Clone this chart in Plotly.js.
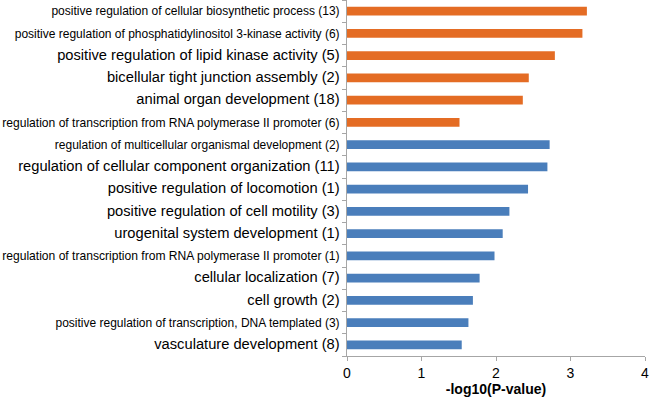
<!DOCTYPE html>
<html>
<head>
<meta charset="utf-8">
<script src="https://cdn.plot.ly/plotly-3.0.1.min.js"></script>
<style>
  html, body { margin: 0; padding: 0; background: #ffffff; }
  #chart { width: 650px; height: 403px; }
</style>
</head>
<body>
<div id="chart"></div>
<script>
// ---- data (top to bottom) ----
const categories = [
  "positive regulation of cellular biosynthetic process (13)",
  "positive regulation of phosphatidylinositol 3-kinase activity (6)",
  "positive regulation of lipid kinase activity (5)",
  "bicellular tight junction assembly (2)",
  "animal organ development (18)",
  "regulation of transcription from RNA polymerase II promoter (6)",
  "regulation of multicellular organismal development (2)",
  "regulation of cellular component organization (11)",
  "positive regulation of locomotion (1)",
  "positive regulation of cell motility (3)",
  "urogenital system development (1)",
  "regulation of transcription from RNA polymerase II promoter (1)",
  "cellular localization (7)",
  "cell growth (2)",
  "positive regulation of transcription, DNA templated (3)",
  "vasculature development (8)"
];
const values = [3.22, 3.16, 2.79, 2.44, 2.36, 1.51, 2.72, 2.69, 2.43, 2.18, 2.09, 1.98, 1.78, 1.69, 1.63, 1.54];
const groups = ["orange","orange","orange","orange","orange","orange",
                "blue","blue","blue","blue","blue","blue","blue","blue","blue","blue"];
const xTickValues = [0, 1, 2, 3, 4];
const xTitle = "-log10(P-value)";

// ---- styles (kept separate from data) ----
const groupColors = { orange: "#E46C24", blue: "#4A7EBB" };
const labelFontPx = [12, 12, 14.7, 14.7, 14.7, 12.1, 12, 14.7, 14.7, 14.7, 14.7, 12.1, 14.7, 14.7, 12, 14.7];

// unique category keys (two labels share the same text)
const keys = categories.map((c, i) => "c" + i);
const tickText = categories.map((c, i) =>
  '<span style="font-size:' + labelFontPx[i] + 'px">' + c + '</span>');

const FONT = "Arial, 'Liberation Sans', sans-serif";

const trace = {
  type: "bar",
  orientation: "h",
  y: keys,
  x: values,
  marker: { color: groups.map(g => groupColors[g]), line: { width: 0 } },
  hoverinfo: "x"
};

const layout = {
  width: 650,
  height: 403,
  margin: { l: 347, r: 5, t: 0, b: 47 },
  paper_bgcolor: "#ffffff",
  plot_bgcolor: "#ffffff",
  font: { family: FONT, color: "#000000", size: 14 },
  bargap: 0.6,
  showlegend: false,
  xaxis: {
    range: [0, 4],
    tickvals: xTickValues,
    ticktext: xTickValues.map(String),
    showgrid: false,
    zeroline: false,
    showline: true,
    linecolor: "#A6A6A6",
    linewidth: 1,
    ticks: "outside",
    ticklen: 4,
    tickcolor: "#A6A6A6",
    tickfont: { family: FONT, size: 14, color: "#000000" },
    title: { text: "<b>" + xTitle + "</b>", font: { family: FONT, size: 14, color: "#000000" }, standoff: 2 }
  },
  yaxis: {
    type: "category",
    categoryorder: "array",
    categoryarray: keys,
    autorange: "reversed",
    tickvals: keys,
    ticktext: tickText,
    tickson: "boundaries",
    showgrid: false,
    zeroline: false,
    showline: true,
    linecolor: "#A6A6A6",
    linewidth: 1,
    ticks: "outside",
    ticklen: 4,
    tickcolor: "#A6A6A6",
    ticklabelstandoff: 4,
    tickfont: { family: FONT, size: 12, color: "#000000" }
  }
};

Plotly.newPlot("chart", [trace], layout, { displayModeBar: false, staticPlot: true });
</script>
</body>
</html>
